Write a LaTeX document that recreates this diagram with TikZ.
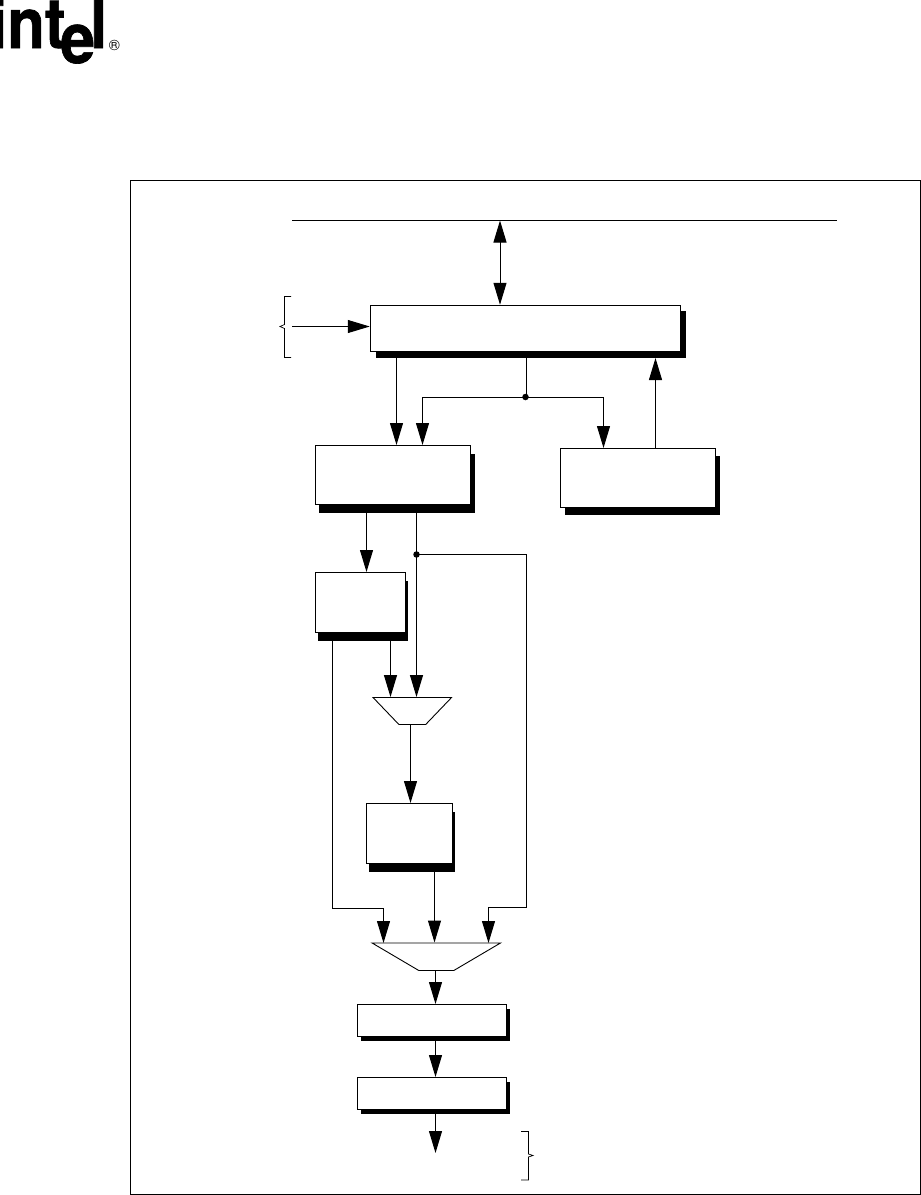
\documentclass[tikz,border=0pt]{standalone}
\usepackage{fontspec}
\newfontfamily\logofont[FakeBold=1]{TeX Gyre Heros Bold}
\setmainfont{TeX Gyre Heros}
\usetikzlibrary{arrows.meta,shapes.geometric,shadows}
\tikzset{
  unit/.style 2 args={draw, fill=white, line width=1pt, inner sep=0pt,
    drop shadow={shadow xshift=#1pt, shadow yshift=-#2pt, fill=black, opacity=1}},
  mux/.style={draw, fill=white, line width=0.9pt, inner sep=1pt, trapezium,
    shape border rotate=180, trapezium stretches=true},
  flow/.style={line width=1pt, -{Triangle[length=22pt, width=13pt]}},
  wire/.style={line width=1pt},
  joint/.style={circle, fill=black, inner sep=0pt, minimum size=6.5pt},
  logo/.style={font=\fontsize{70}{70}\logofont, inner sep=0pt, anchor=base west, xscale=0.88}
}
\begin{document}
\begin{tikzpicture}[x=1pt, y=-1pt]
  \useasboundingbox (0,0) rectangle (921,1195);
  % Logo
  \node[logo] (logoint) at (-10,48) {int};
  \node[logo, xscale=1.02] (logoe) at (60,63) {e};
  \node[logo] (logol) at (90,48) {l};
  \node[font=\fontsize{15}{15}\selectfont, inner sep=0pt] (logomark) at (114.5,45) {®};
  % Outer frame
  \node[draw, line width=1pt, inner sep=0pt, minimum width=789.5pt, minimum height=1014.5pt] (frame) at (525.25,687.25) {};
  % Bus line
  \coordinate (busw) at (292,220.5);
  \coordinate (buse) at (837,220.5);
  \draw[wire] (busw) -- (buse);
  % Blocks
  \node[unit={5.5}{6}, minimum width=310.5pt, minimum height=46.5pt] (mainbox) at (525.5,328.5) {};
  \node[unit={4}{8.5}, minimum width=155.5pt, minimum height=59pt] (leftbox) at (393,475) {};
  \node[unit={4.5}{7.5}, minimum width=155.5pt, minimum height=59pt] (rightbox) at (638,478) {};
  \node[unit={2.5}{8}, minimum width=90.5pt, minimum height=60pt] (smallbox) at (360.5,602.5) {};
  \node[unit={2}{8}, minimum width=86pt, minimum height=60pt] (midbox) at (409.5,833.5) {};
  \node[unit={3.5}{4.5}, minimum width=149.5pt, minimum height=32pt] (lowbox) at (432,1020.5) {};
  \node[unit={3.5}{4.5}, minimum width=149.5pt, minimum height=32pt] (endbox) at (432,1093.5) {};
  % Multiplexers
  \node[mux, minimum width=78.5pt, minimum height=27pt, trapezium left angle=46, trapezium right angle=46] (muxa) at (412.3,711) {};
  \node[mux, minimum width=128.5pt, minimum height=27.5pt, trapezium left angle=37, trapezium right angle=37] (muxb) at (436.3,956.7) {};
  % Wire drop positions
  \coordinate (xbus) at (500,0);
  \coordinate (xa) at (396.5,0);
  \coordinate (xb) at (422.5,0);
  \coordinate (xc) at (603.5,0);
  \coordinate (xd) at (655.5,0);
  \coordinate (xe) at (366.5,0);
  \coordinate (xf) at (416.5,0);
  \coordinate (xg) at (390.5,0);
  \coordinate (xh) at (410.5,0);
  \coordinate (xi) at (434.5,0);
  \coordinate (xj) at (435.5,0);
  % Input bracket
  \coordinate (insrc) at (292,326.5);
  \draw[line width=0.7pt] (291,296.5) -- (284.5,296.5) -- (284.5,324.5) -- (280,326.5) -- (284.5,328.5) -- (284.5,357.5) -- (291,357.5);
  \draw[flow] (insrc) -- (insrc -| mainbox.west);
  % Connectors, upper part
  \draw[wire, {Triangle[length=22pt, width=13pt]}-{Triangle[length=22pt, width=13pt]}] (xbus |- busw) -- (xbus |- mainbox.north);
  \draw[flow] (xa |- mainbox.south) -- (xa |- leftbox.north);
  \node[joint] (jointa) at (525.5,397) {};
  \draw[wire] (526.5,351) -- (526.5,396.5);
  \draw[flow] (jointa.center) -- (jointa.center -| xb) -- (xb |- leftbox.north);
  \draw[flow] (jointa.center) -- (jointa.center -| xc) -- (xc |- rightbox.north);
  \draw[flow] (xd |- rightbox.north) -- (655.5,358);
  % Connectors, middle part
  \draw[flow] (xe |- leftbox.south) -- (xe |- smallbox.north);
  \draw[flow] (xf |- leftbox.south) -- (xf |- muxa.north);
  \node[joint] (jointb) at (416.5,554.5) {};
  \draw[flow] (jointb.center) -- (526.5,554.5) -- (526.5,907) -- (488.5,907) -- (488.5,943);
  \draw[flow] (xg |- smallbox.south) -- (xg |- muxa.north);
  \draw[flow] (xh |- muxa.south) -- (xh |- midbox.north);
  \draw[flow] (332.5,632) -- (332.5,908) -- (383.5,908) -- (383.5,943);
  \draw[flow] (xi |- midbox.south) -- (xi |- muxb.north);
  % Connectors, lower part
  \draw[flow] (xj |- muxb.south) -- (xj |- lowbox.north);
  \draw[flow] (xj |- lowbox.south) -- (xj |- endbox.north);
  \coordinate (outend) at (435.5,1153);
  \draw[flow] (xj |- endbox.south) -- (outend);
  % Output bracket
  \draw[line width=0.7pt] (521,1131.5) -- (528.5,1131.5) -- (528.5,1154) -- (533,1155.5) -- (528.5,1157) -- (528.5,1180) -- (521,1180);
\end{tikzpicture}
\end{document}
